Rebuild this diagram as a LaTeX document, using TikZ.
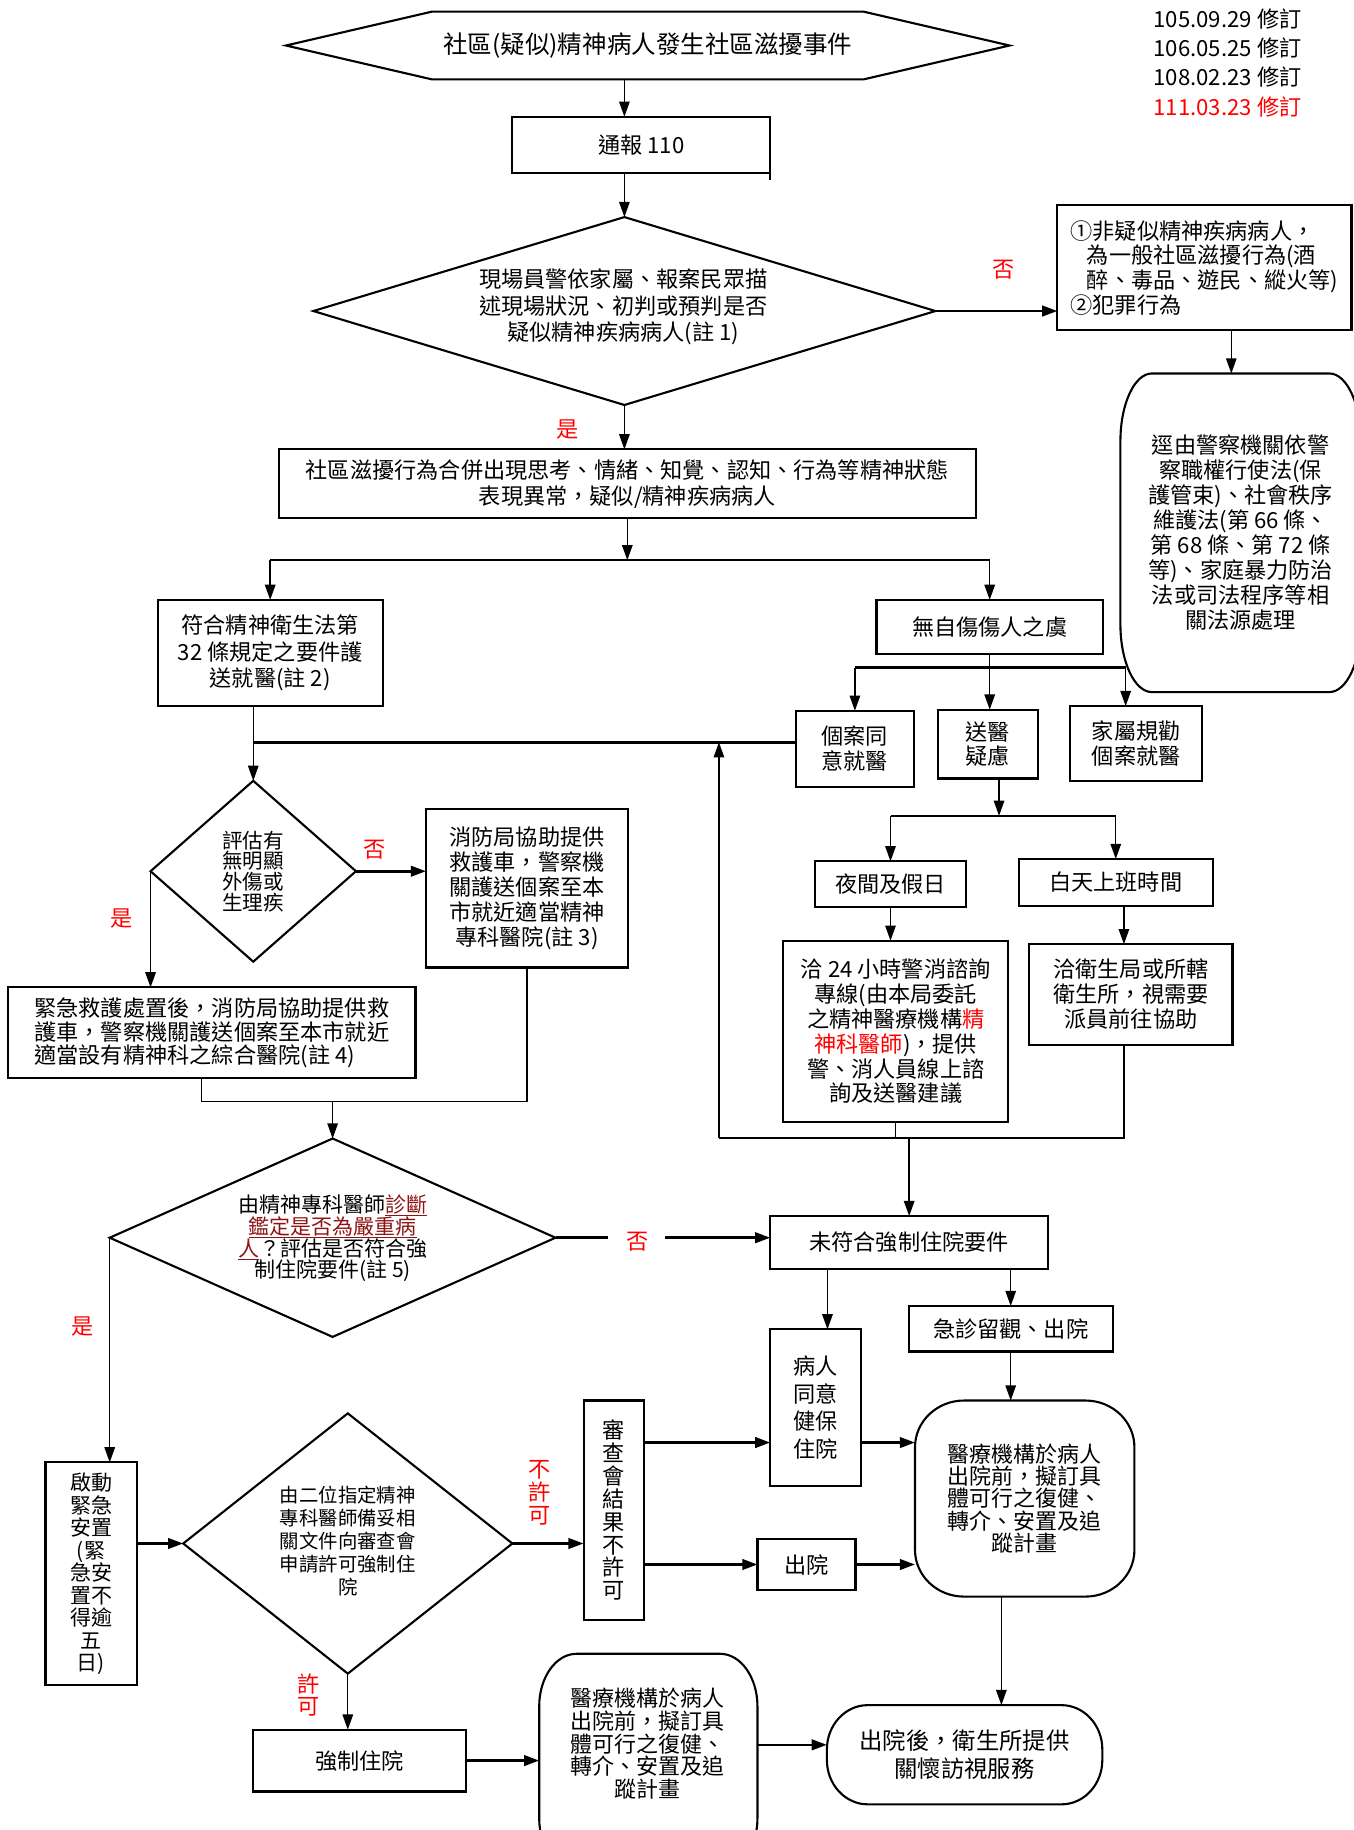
\documentclass[tikz,border=0pt]{standalone}
\usepackage{fontspec}
\setmainfont{Noto Sans CJK TC}
\usetikzlibrary{calc,shapes.geometric,arrows.meta}
\definecolor{myred}{RGB}{255,0,0}
\definecolor{dred}{RGB}{140,20,20}
\newcommand\myfs[2]{\fontsize{#1pt}{#2pt}\selectfont}
\newcommand\drawRshape[3]{%
 \draw[shp] ($(#1.north west)+(#2,0)$) -- ($(#1.north east)+(-#2,0)$)
  .. controls ($(#1.north east)+({-0.448*#2},0)$) and ($(#1.north east)+(0,{0.448*#3})$) .. ($(#1.north east)+(0,#3)$)
  -- ($(#1.south east)+(0,-#3)$)
  .. controls ($(#1.south east)+(0,{-0.448*#3})$) and ($(#1.south east)+({-0.448*#2},0)$) .. ($(#1.south east)+(-#2,0)$)
  -- ($(#1.south west)+(#2,0)$)
  .. controls ($(#1.south west)+({0.448*#2},0)$) and ($(#1.south west)+(0,{-0.448*#3})$) .. ($(#1.south west)+(0,-#3)$)
  -- ($(#1.north west)+(0,#3)$)
  .. controls ($(#1.north west)+(0,{0.448*#3})$) and ($(#1.north west)+({0.448*#2},0)$) .. cycle;}
\newcommand\redul[1]{\smash{\color{dred}\setbox0\hbox{#1}\rlap{\rule[-1.55pt]{\wd0}{0.45pt}}\box0}}
\tikzset{
 shp/.style={draw, line width=0.9pt},
 bx/.style 2 args={shp, inner sep=0pt, outer sep=0pt, minimum width={#1*0.5pt}, minimum height={#2*0.5pt}, align=center, font=\myfs{9.5}{10.75}},
 rs/.style 2 args={inner sep=0pt, outer sep=0pt, minimum width={#1*0.5pt}, minimum height={#2*0.5pt}, align=center, font=\myfs{9.5}{10.75}},
 dm/.style 2 args={diamond, shp, inner sep=0pt, outer sep=0pt, minimum width={#1*0.5pt}, minimum height={#2*0.5pt}},
 txt/.style={align=center, inner sep=0pt, font=\myfs{9.5}{10.75}},
 lbl/.style={text=myred, inner sep=0pt, align=center, font=\myfs{9.5}{10}},
 arr/.style={line width=0.6pt, -{Triangle[length=6.5pt,width=4.5pt]}},
 ln/.style={line width=0.6pt},
 thk/.style={line width=1.1pt},
}
\begin{document}
\begin{tikzpicture}[x=0.5pt,y=-0.5pt]
\useasboundingbox (0,0) rectangle (1160,1568);

% revision notes
\node[anchor=west, inner sep=0pt, font=\myfs{9.5}{10}] (rev1) at (988,16) {105.09.29 修訂};
\node[anchor=west, inner sep=0pt, font=\myfs{9.5}{10}] (rev2) at (988,41) {106.05.25 修訂};
\node[anchor=west, inner sep=0pt, font=\myfs{9.5}{10}] (rev3) at (988,66) {108.02.23 修訂};
\node[anchor=west, inner sep=0pt, font=\myfs{9.5}{10}, text=myred] (rev4) at (988,92) {111.03.23 修訂};

% hexagon
\node[inner sep=0pt, outer sep=0pt, minimum width=310pt, minimum height=29pt, font=\myfs{10.5}{11}] (hex) at (555,39) {社區(疑似)精神病人發生社區滋擾事件};
\draw[shp] (245,39) -- (370,10) -- (740,10) -- (865,39) -- (740,68) -- (370,68) -- cycle;

\node[bx={221}{48}] (b110) at (549.5,124) {通報 110};
\draw[shp] (b110.south east) -- ++(0,6);

\node[dm={533}{161}] (d1) at (535,266.5) {};
\node[txt, font=\myfs{9.5}{11.25}] (d1t) at (534,263) {現場員警依家屬、報案民眾描\\述現場狀況、初判或預判是否\\疑似精神疾病病人(註 1)};

\node[bx={252}{107}, align=left, font=\myfs{9.5}{10.5}] (bright) at (1032,229.5) {①非疑似精神疾病病人，\\\hspace*{7pt}為一般社區滋擾行為(酒\\\hspace*{7pt}醉、毒品、遊民、縱火等)\\②犯罪行為};

\node[rs={206}{273}, font=\myfs{9.5}{10.7}] (tall) at (1063,456.5) {逕由警察機關依警\\察職權行使法(保\\護管束)、社會秩序\\維護法(第 66 條、\\第 68 條、第 72 條\\等)、家庭暴力防治\\法或司法程序等相\\關法源處理};
\drawRshape{tall}{27}{58}

\node[bx={597}{59}, font=\myfs{9.5}{11}] (bsoc) at (537.5,414.5) {社區滋擾行為合併出現思考、情緒、知覺、認知、行為等精神狀態\\表現異常，疑似/精神疾病病人};

\node[bx={193}{91}, font=\myfs{9.5}{11.25}] (b32) at (231.5,559.5) {符合精神衛生法第\\32 條規定之要件護\\送就醫(註 2)};
\node[bx={194}{46}] (bno) at (848,537) {無自傷傷人之虞};
\node[bx={101}{65}, font=\myfs{9.5}{11}] (bagree) at (732.5,641.5) {個案同\\意就醫};
\node[bx={85}{59}, font=\myfs{9.5}{10.5}] (bdoubt) at (846.5,637.5) {送醫\\疑慮};
\node[bx={113}{64}, font=\myfs{9.5}{11}] (bfam) at (973.5,637) {家屬規勸\\個案就醫};
\node[bx={130}{39}] (bnight) at (763,757.5) {夜間及假日};
\node[bx={166}{40}] (bday) at (956,756) {白天上班時間};
\node[bx={193}{155}, font=\myfs{9.5}{10.7}] (b24) at (767.5,883.5) {洽 24 小時警消諮詢\\專線(由本局委託\\之精神醫療機構{\color{myred}精}\\{\color{myred}神科醫師})，提供\\警、消人員線上諮\\詢及送醫建議};
\node[bx={174}{86}] (bhealth) at (969,852) {洽衛生局或所轄\\衛生所，視需要\\派員前往協助};

\node[dm={176}{155}] (d2) at (217,746.5) {};
\node[txt, font=\myfs{8.8}{8.85}] (d2t) at (217,746.5) {評估有\\無明顯\\外傷或\\生理疾};
\node[bx={173}{136}] (bfire) at (451.5,761) {消防局協助提供\\救護車，警察機\\關護送個案至本\\市就近適當精神\\專科醫院(註 3)};
\node[bx={349}{78}, align=left, font=\myfs{9.5}{10}] (bemerg) at (181.5,885) {緊急救護處置後，消防局協助提供救\\護車，警察機關護送個案至本市就近\\適當設有精神科之綜合醫院(註 4)};

\node[dm={382}{170}] (d3) at (285,1060.5) {};
\node[txt, font=\myfs{9}{9.4}] (d3t) at (285,1061) {由精神專科醫師\redul{診斷}\\\redul{鑑定是否為嚴重病}\\\redul{人}？評估是否符合強\\制住院要件(註 5)};

\node[bx={238}{45}] (bnot) at (779,1064.5) {未符合強制住院要件};
\node[bx={175}{39}] (bobs) at (866,1138.5) {急診留觀、出院};
\node[bx={78}{134}, font=\myfs{9.5}{11.75}] (bpat) at (699,1206) {病人\\同意\\健保\\住院};
\node[bx={84}{43}] (bdis) at (691,1340.5) {出院};
\node[bx={52}{188}, font=\myfs{9.5}{9.8}] (brev) at (526,1294) {審\\查\\會\\結\\果\\不\\許\\可};
\node[bx={78}{191}, font=\myfs{9}{9.65}] (bstart) at (78,1348.5) {啟動\\緊急\\安置\\(緊\\急安\\置不\\得逾\\五\\日)};
\node[bx={182}{53}] (bforce) at (308,1508.5) {強制住院};

\node[dm={282}{223}] (d4) at (298,1322.5) {};
\node[txt, font=\myfs{8.3}{9.9}] (d4t) at (298,1320.5) {由二位指定精神\\專科醫師備妥相\\關文件向審查會\\申請許可強制住\\院};

\node[rs={188}{168}, font=\myfs{9.4}{9.6}] (m1) at (878,1284) {醫療機構於病人\\出院前，擬訂具\\體可行之復健、\\轉介、安置及追\\蹤計畫};
\drawRshape{m1}{42}{40}
\node[rs={187}{186}] (m2) at (555.5,1510) {};
\node[txt, font=\myfs{9.4}{9.7}] (m2t) at (555,1494) {醫療機構於病人\\出院前，擬訂具\\體可行之復健、\\轉介、安置及追\\蹤計畫};
\drawRshape{m2}{32}{45}
\node[rs={236}{85}, font=\myfs{10}{12}] (m3) at (826.5,1503.5) {出院後，衛生所提供\\關懷訪視服務};
\drawRshape{m3}{35}{38}

% labels
\node[lbl] (l1) at (860,231) {否};
\node[lbl] (l2) at (486,368) {是};
\node[lbl] (l3) at (321,728) {否};
\node[lbl] (l4) at (104,787) {是};
\node[lbl] (l5) at (546,1064) {否};
\node[lbl] (l6) at (71,1137) {是};
\node[lbl, font=\myfs{9.5}{10}] (l7) at (462,1279) {不\\許\\可};
\node[lbl, font=\myfs{9.5}{9.5}] (l8) at (264,1452) {許\\可};

% connectors
\draw[arr] (hex.south -| d1.north) -- (b110.north -| d1.north);
\draw[arr] (b110.south -| d1.north) -- (d1.north);
\draw[arr,thk] (d1.east) -- (bright.west |- d1.east);
\path ($(tall.north)+(-8,0)$) coordinate (tin);
\draw[arr] (bright.south -| tin) -- (tin);
\draw[arr] (d1.south) -- (d1.south |- bsoc.north);

\coordinate (split1) at (537.5,480);
\draw[arr] (bsoc.south) -- (split1);
\draw[thk] (split1 -| b32.north) -- (split1 -| bno.north);
\draw[arr] (split1 -| b32.north) -- (b32.north);
\draw[arr] (split1 -| bno.north) -- (bno.north);

\coordinate (split2) at (848,572);
\draw[arr] (bno.south) -- (bno.south |- bdoubt.north);
\path ($(bfam.north)+(-9,0)$) coordinate (famin);
\draw[thk] (split2 -| bagree.north) -- (split2 -| famin);
\draw[arr] (split2 -| bagree.north) -- (bagree.north);
\draw[arr] (split2 -| famin) -- (famin);

\coordinate (mergeL) at (217,636);
\draw[thk] (bagree.west |- mergeL) -- (mergeL);
\draw[arr] (b32.south -| d2.north) -- (d2.north);

\coordinate (split3) at (856,699);
\draw[arr] (bdoubt.south -| split3) -- (split3);
\draw[thk] (split3 -| bnight.north) -- (split3 -| bday.north);
\draw[arr] (split3 -| bnight.north) -- (bnight.north);
\draw[arr] (split3 -| bday.north) -- (bday.north);
\draw[arr] (bnight.south) -- (bnight.south |- b24.north);
\path ($(bhealth.north)+(-6,0)$) coordinate (hlti);
\path ($(bhealth.south)+(-6,0)$) coordinate (hlto);
\draw[arr] (bday.south -| hlti) -- (hlti);

\coordinate (loopB) at (616,975);
\draw[ln] (b24.south) -- (b24.south |- loopB);
\draw[ln] (hlto) -- (hlto |- loopB) -- (loopB);
\draw[arr] (loopB) -- (loopB |- mergeL);
\draw[arr] (loopB -| bnot.north) -- (bnot.north);

\draw[arr,thk] (d2.east) -- (bfire.west |- d2.east);
\draw[arr] (d2.west) -- (d2.west |- bemerg.north);
\path ($(bemerg.south)+(-9,0)$) coordinate (emo);
\coordinate (join2) at (285,944);
\draw[ln] (emo) |- (join2) -| (bfire.south);
\draw[arr] (join2) -- (d3.north);

\draw[thk] (d3.east) -- ($(d3.east)+(45,0)$);
\draw[arr,thk] ($(d3.east)+(94,0)$) -- (bnot.west |- d3.east);

\path ($(bpat.north)+(10,0)$) coordinate (pati);
\draw[arr] (bnot.south -| pati) -- (pati);
\draw[arr] (bnot.south -| bobs.north) -- (bobs.north);
\draw[arr] (bobs.south) -- (bobs.south |- m1.north);
\path ($(m1.south)+(-20,0)$) coordinate (m1o);
\draw[arr] (m1o) -- (m1o |- m3.north);

\coordinate (row1) at (0,1236);
\coordinate (row2) at (0,1340.5);
\coordinate (row3) at (0,1495);
\draw[arr,thk] (brev.east |- row1) -- (bpat.west |- row1);
\draw[arr,thk] (brev.east |- row2) -- (bdis.west |- row2);
\draw[arr,thk] (bpat.east |- row1) -- (m1.west |- row1);
\draw[arr,thk] (bdis.east |- row2) -- (m1.west |- row2);

\draw[arr,thk] (d4.east) -- (brev.west |- d4.east);
\draw[arr] (d3.west) -- (d3.west |- bstart.north);
\draw[arr,thk] (bstart.east |- d4.west) -- (d4.west);
\draw[arr] (d4.south) -- (d4.south |- bforce.north);
\draw[arr,thk] (bforce.east) -- (bforce.east -| m2.west);
\draw[arr,thk] (m2.east |- row3) -- (m3.west |- row3);

\end{tikzpicture}
\end{document}
